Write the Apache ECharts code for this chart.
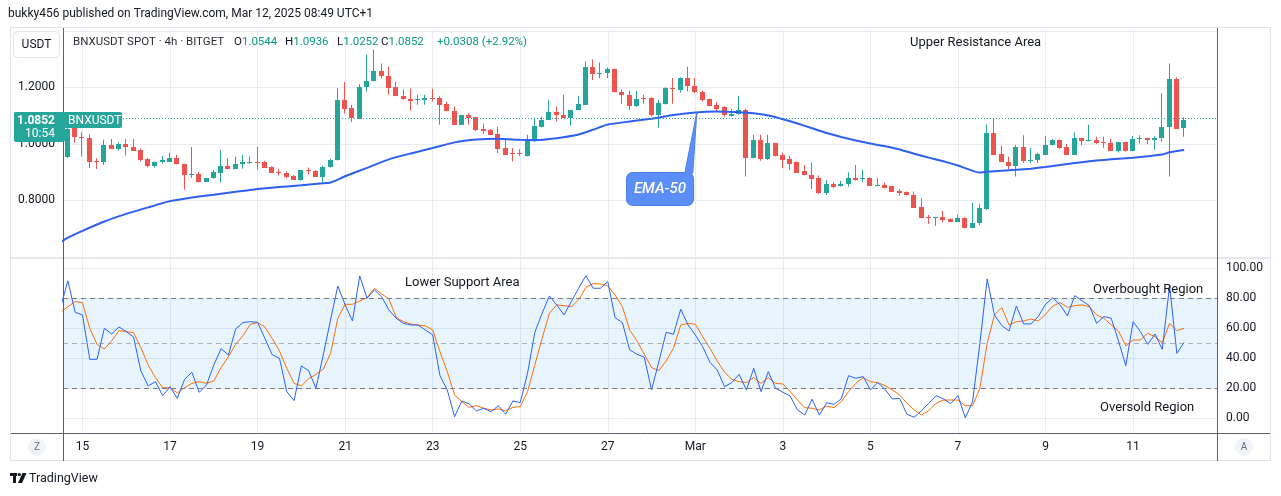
<!DOCTYPE html>
<html><head><meta charset="utf-8">
<script src="https://cdn.jsdelivr.net/npm/echarts@6/dist/echarts.min.js"></script>
<style>html,body{margin:0;padding:0;background:#fff;}#c{width:1281px;height:496px;}</style>
</head><body><div id="c"></div>
<script>
// ---------- DATA (4h bars; bar index 0 = Feb 15 00:00) ----------
const firstBar = -2;
const opens  = [0.955,1.055,1.024,1.021,0.940,0.937,0.996,0.983,1.000,0.989,0.978,0.946,0.923,0.936,0.937,0.950,0.929,0.888,0.893,0.865,0.878,0.898,0.923,0.912,0.928,0.934,0.936,0.936,0.918,0.899,0.897,0.886,0.872,0.907,0.904,0.884,0.917,0.941,1.156,1.127,1.089,1.200,1.221,1.259,1.241,1.200,1.170,1.159,1.155,1.155,1.163,1.161,1.141,1.117,1.067,1.101,1.096,1.053,1.050,1.036,0.986,0.966,0.966,0.957,1.011,1.060,1.084,1.112,1.103,1.093,1.120,1.138,1.272,1.248,1.251,1.266,1.185,1.174,1.135,1.162,1.162,1.103,1.141,1.197,1.189,1.232,1.206,1.185,1.160,1.136,1.129,1.099,1.104,1.121,0.951,1.013,0.946,1.004,0.961,0.947,0.934,0.902,0.890,0.879,0.827,0.859,0.849,0.857,0.879,0.876,0.880,0.852,0.854,0.849,0.834,0.831,0.819,0.775,0.741,0.736,0.740,0.734,0.724,0.738,0.703,0.718,0.769,1.039,0.964,0.936,0.923,0.989,0.940,0.943,0.962,0.994,1.014,0.987,0.961,1.021,1.011,1.013,1.006,1.004,0.976,1.006,0.976,1.019,1.021,1.012,1.019,1.058,1.231,1.0544];
const highs  = [1.075,1.062,1.041,1.034,0.949,1.014,1.017,1.006,1.017,1.017,0.983,0.949,0.937,0.957,0.968,0.961,0.929,0.989,0.901,0.879,0.907,0.979,0.949,0.954,0.960,0.954,0.989,0.940,0.920,0.912,0.902,0.890,0.907,0.916,0.907,0.923,0.947,1.195,1.219,1.138,1.212,1.316,1.334,1.284,1.273,1.220,1.192,1.195,1.174,1.174,1.195,1.168,1.148,1.131,1.103,1.109,1.096,1.072,1.052,1.060,1.018,0.985,0.981,1.032,1.093,1.096,1.156,1.131,1.174,1.120,1.170,1.292,1.298,1.288,1.270,1.266,1.192,1.188,1.188,1.174,1.165,1.156,1.200,1.233,1.235,1.273,1.232,1.188,1.160,1.148,1.133,1.124,1.170,1.124,1.032,1.032,1.032,1.004,0.969,0.957,0.937,0.925,0.934,0.888,0.872,0.866,0.869,0.899,0.925,0.908,0.882,0.880,0.863,0.849,0.840,0.831,0.831,0.807,0.748,0.740,0.762,0.736,0.750,0.740,0.791,0.788,1.067,1.089,0.994,0.954,0.996,1.030,0.985,0.968,1.028,1.017,1.016,0.999,1.041,1.021,1.067,1.025,1.025,1.018,1.006,1.006,1.028,1.030,1.021,1.027,1.178,1.284,1.236,1.0936];
const lows   = [0.950,1.004,0.955,0.914,0.911,0.925,0.983,0.976,0.959,0.975,0.937,0.916,0.916,0.929,0.937,0.927,0.837,0.880,0.863,0.865,0.876,0.863,0.909,0.912,0.912,0.929,0.909,0.914,0.897,0.888,0.878,0.872,0.869,0.891,0.884,0.863,0.916,0.941,1.107,1.077,1.089,1.186,1.221,1.232,1.174,1.168,1.155,1.118,1.138,1.138,1.150,1.067,1.115,1.067,1.067,1.067,1.044,1.036,1.030,0.967,0.961,0.937,0.957,0.955,1.006,1.059,1.084,1.079,1.093,1.065,1.120,1.138,1.226,1.232,1.233,1.182,1.142,1.120,1.131,1.142,1.097,1.058,1.139,1.142,1.182,1.186,1.179,1.150,1.133,1.115,1.097,1.097,1.104,0.884,0.949,0.940,0.943,0.955,0.914,0.908,0.897,0.888,0.840,0.822,0.819,0.843,0.849,0.849,0.869,0.866,0.852,0.852,0.843,0.831,0.817,0.817,0.774,0.736,0.716,0.710,0.722,0.724,0.724,0.701,0.701,0.712,0.766,0.962,0.935,0.911,0.884,0.932,0.932,0.932,0.961,0.994,0.982,0.961,0.961,0.994,1.008,1.000,0.986,0.976,0.969,0.972,0.976,1.000,0.999,0.980,1.008,0.884,1.052,1.0252];
const closes = [1.054,1.023,1.019,0.935,0.936,0.996,0.983,1.000,0.987,0.975,0.943,0.923,0.936,0.942,0.950,0.927,0.888,0.893,0.865,0.879,0.901,0.923,0.912,0.929,0.936,0.936,0.934,0.916,0.898,0.897,0.883,0.872,0.907,0.902,0.884,0.917,0.943,1.156,1.124,1.091,1.202,1.224,1.259,1.239,1.198,1.168,1.159,1.150,1.157,1.163,1.160,1.138,1.115,1.067,1.101,1.093,1.050,1.046,1.032,0.983,0.961,0.963,0.963,1.012,1.064,1.084,1.112,1.101,1.093,1.120,1.142,1.273,1.246,1.251,1.266,1.182,1.172,1.135,1.160,1.160,1.103,1.144,1.196,1.195,1.232,1.204,1.182,1.156,1.133,1.124,1.101,1.107,1.121,0.951,1.013,0.946,1.004,0.957,0.943,0.929,0.897,0.888,0.876,0.827,0.858,0.847,0.858,0.878,0.872,0.879,0.852,0.854,0.845,0.831,0.827,0.817,0.774,0.738,0.736,0.740,0.731,0.724,0.736,0.703,0.718,0.773,1.039,0.962,0.935,0.923,0.989,0.940,0.943,0.964,0.996,1.014,0.985,0.961,1.021,1.011,1.013,1.004,1.004,0.976,1.006,0.976,1.017,1.021,1.012,1.021,1.060,1.231,1.053,1.0852];

// EMA-50 read at selected bars
const emaIdx = [-3,-2,0,3,6,9,12,15,18,21,24,27,30,33,34,36,39,42,45,48,51,54,57,60,62,65,68,70,72,75,78,81,84,87,90,92,94,96,98,100,102,104,106,108,110,112,114,116,118,120,123,124,126,128,130,132,134,136,138,140,142,144,146,148,149,151];
const emaVal = [0.652,0.668,0.692,0.725,0.752,0.775,0.797,0.810,0.820,0.830,0.840,0.847,0.853,0.860,0.863,0.885,0.915,0.945,0.966,0.985,1.005,1.015,1.018,1.014,1.013,1.020,1.033,1.050,1.068,1.079,1.089,1.102,1.111,1.114,1.112,1.108,1.100,1.087,1.072,1.055,1.038,1.024,1.012,1.001,0.991,0.980,0.965,0.951,0.938,0.923,0.898,0.901,0.905,0.908,0.912,0.918,0.925,0.932,0.938,0.943,0.947,0.951,0.956,0.962,0.970,0.978];

// Oscillator (%K blue, %D orange), first value at bar -3
const oscStart = -3;
const oscK = [74.2,91.6,70.7,68.9,39.3,39.3,60.0,56.2,60.9,57.8,54.2,31.6,21.6,24.4,15.1,21.1,13.3,26.0,30.7,17.3,22.2,35.6,46.4,42.2,59.6,63.8,64.4,64.0,53.3,42.4,40.0,17.8,11.8,34.9,31.8,20.0,42.2,65.6,88.2,75.6,64.9,94.9,80.0,85.6,81.1,72.2,66.7,63.3,62.2,62.2,58.9,55.6,28.4,18.9,1.1,11.6,9.6,4.9,6.7,4.4,8.4,2.7,11.6,10.4,30.0,57.3,70.0,81.6,75.6,68.9,77.8,86.7,95.1,86.7,86.7,91.1,67.1,63.8,45.6,42.7,40.7,18.9,37.8,57.3,56.0,72.7,62.2,55.6,47.8,37.3,32.2,21.1,23.8,29.3,18.9,33.3,17.8,31.1,20.0,17.3,14.9,5.6,2.2,12.7,2.2,10.4,9.3,12.9,28.4,26.7,27.8,18.9,23.8,19.3,12.9,13.3,2.7,0.7,5.1,10.0,15.1,12.9,9.8,15.1,0.4,11.1,50.0,92.9,68.9,61.8,58.2,74.9,62.9,62.9,67.8,76.0,80.4,75.6,68.2,81.8,78.4,75.1,63.3,67.8,66.7,51.6,35.1,64.4,57.8,49.3,56.2,46.0,88.4,43.3,50.7];
const oscD = [70.7,74.4,77.8,77.1,60.0,49.3,46.2,51.6,58.4,57.8,57.1,47.1,35.6,27.1,20.4,20.4,16.9,20.4,23.3,24.4,23.3,24.9,33.8,41.1,49.3,55.1,62.7,63.8,60.9,53.3,44.9,33.3,23.3,21.6,26.4,29.3,32.7,43.3,66.7,76.0,76.0,78.2,80.4,86.7,82.9,79.6,67.3,64.4,62.9,62.2,61.6,58.9,44.4,31.1,15.6,11.1,7.3,8.4,6.7,5.6,6.2,4.9,7.3,7.8,17.8,35.6,53.3,70.0,75.6,75.1,74.4,78.9,87.3,89.8,89.6,88.4,82.2,74.4,58.9,51.6,42.7,33.8,31.8,38.2,46.7,62.2,63.3,62.7,54.4,46.7,38.2,30.7,26.0,24.4,23.8,27.1,23.3,27.1,23.3,22.9,17.8,12.2,7.1,6.7,5.6,8.2,7.1,11.1,17.8,23.3,27.1,24.4,23.8,21.8,18.9,15.6,10.0,5.6,2.2,5.1,10.0,12.2,12.2,12.2,8.4,8.4,20.0,50.0,68.9,73.8,62.2,64.4,64.9,66.2,64.9,69.3,74.9,77.1,74.0,75.1,75.6,74.4,68.9,66.7,62.2,58.2,48.2,52.2,52.2,56.7,54.4,50.4,63.3,58.4,60.0];

// Axis ticks / labels
const timeTickIdx = [0,12,24,36,48,60,72,84,96,108,120,132,144];
const timeTickLabels = ['15','17','19','21','23','25','27','Mar','3','5','7','9','11'];
const priceLabels = [0.8,1.0,1.2];
const oscLevels = [80,50,20];
const lastPrice = 1.0852;
const header = {symbol:'BNXUSDT SPOT · 4h · BITGET', o:'1.0544', h:'1.0936', l:'1.0252', c:'1.0852', chg:'+0.0308 (+2.92%)'};

// ---------- BUILD ----------
const UP = '#26a69a', DOWN = '#ef5350', GRID = '#e9ecf2', TXT = '#131722';
const FONT = 'Roboto, "Noto Sans", sans-serif';
const candleData = opens.map((o,k)=>[firstBar+k, o, closes[k], lows[k], highs[k]]);
const emaData = emaIdx.map((x,k)=>[x, emaVal[k]]);
const kData = oscK.map((v,k)=>[oscStart+k, v]);
const dData = oscD.map((v,k)=>[oscStart+k, v]);

const XMIN = -2.67, XMAX = 155.5;
function xAx(gridIndex, opts){
  return Object.assign({type:'value', gridIndex, min:XMIN, max:XMAX,
    axisLine:{show:false}, axisTick:{show:false, customValues:timeTickIdx},
    axisLabel:{show:false}, splitLine:{show:false}}, opts||{});
}

const chart = echarts.init(document.getElementById('c'), null, {renderer:'canvas', width:1281, height:496});

function renderCandle(params, api){
  const i = api.value(0), o = api.value(1), c = api.value(2), l = api.value(3), h = api.value(4);
  const pO = api.coord([i,o]), pC = api.coord([i,c]), pL = api.coord([i,l]), pH = api.coord([i,h]);
  const cx = Math.round(pO[0]) - 1;
  const color = c >= o ? UP : DOWN;
  const top = Math.round(Math.min(pO[1], pC[1])), bot = Math.round(Math.max(pO[1], pC[1]));
  return {type:'group', children:[
    {type:'rect', shape:{x:cx, y:pH[1], width:1, height:Math.max(1,pL[1]-pH[1])}, style:{fill:color}},
    {type:'rect', shape:{x:cx-2, y:top, width:5, height:Math.max(1, bot-top)}, style:{fill:color}}
  ]};
}

const option = {
  animation:false,
  backgroundColor:'#ffffff',
  textStyle:{fontFamily:FONT},
  grid:[
    {left:63, right:64, top:30.8, height:226},
    {left:63, right:64, top:258, height:175},
    {left:63, right:64, top:268.3, height:150}
  ],
  xAxis:[
    xAx(0, {splitLine:{show:true, lineStyle:{color:GRID, width:1}}}),
    xAx(1, {splitLine:{show:true, lineStyle:{color:GRID, width:1}},
            axisLabel:{show:true, customValues:timeTickIdx, margin:8, color:TXT, fontSize:12, fontFamily:FONT,
              formatter:v=>{const k=timeTickIdx.indexOf(Math.round(v)); return k>=0?timeTickLabels[k]:'';}}}),
    xAx(2)
  ],
  yAxis:[
    {type:'value', gridIndex:0, position:'left', min:0.6, max:1.4, interval:0.2,
     axisLine:{show:false}, axisTick:{show:false},
     axisLabel:{margin:8, color:TXT, fontSize:12, fontFamily:FONT,
       formatter:v=>priceLabels.some(p=>Math.abs(p-v)<1e-6)?v.toFixed(4):''},
     splitLine:{show:true, lineStyle:{color:GRID}}},
    {type:'value', gridIndex:1, min:0, max:1, show:false},
    {type:'value', gridIndex:2, position:'right', min:0, max:100, interval:20,
     axisLine:{show:false}, axisTick:{show:false},
     axisLabel:{margin:9, color:TXT, fontSize:12, fontFamily:FONT, formatter:v=>v.toFixed(2)},
     splitLine:{show:true, lineStyle:{color:GRID}}}
  ],
  series:[
    {type:'custom', name:'candles', xAxisIndex:0, yAxisIndex:0, renderItem:renderCandle,
     encode:{x:0, y:[1,2,3,4]}, data:candleData, clip:true, z:3},
    {type:'line', name:'EMA-50', xAxisIndex:0, yAxisIndex:0, data:emaData, showSymbol:false, smooth:0.15,
     lineStyle:{color:'#2e5ff3', width:2}, z:4, silent:true,
     markLine:{silent:true, symbol:['none','none'], label:{show:false},
       lineStyle:{color:UP, type:[1,2], width:1}, data:[{yAxis:lastPrice}]}},
    {type:'line', name:'%K', xAxisIndex:2, yAxisIndex:2, data:kData, showSymbol:false,
     lineStyle:{color:'#2962ff', width:1}, z:4, silent:true,
     markArea:{silent:true, itemStyle:{color:'rgba(33,150,243,0.1)'}, data:[[{yAxis:oscLevels[2]},{yAxis:oscLevels[0]}]]},
     markLine:{silent:true, symbol:['none','none'], label:{show:false},
       data:[
         {yAxis:oscLevels[0], lineStyle:{color:'#787b86', type:[5,4], width:1}},
         {yAxis:oscLevels[1], lineStyle:{color:'rgba(120,123,134,0.55)', type:[5,4], width:1}},
         {yAxis:oscLevels[2], lineStyle:{color:'#787b86', type:[5,4], width:1}}
       ]}},
    {type:'line', name:'%D', xAxisIndex:2, yAxisIndex:2, data:dData, showSymbol:false,
     lineStyle:{color:'#ff6d00', width:1}, z:3, silent:true}
  ]
};
chart.setOption(option);

// ---------- ANNOTATIONS ----------
function txt(x, y, text, o){
  o = o || {};
  return {type:'text', silent:true, z:o.z||20, style:{text, x, y, fill:o.fill||TXT,
    font:(o.style||'normal')+' '+(o.weight||'normal')+' '+(o.size||13)+'px '+FONT,
    align:o.align||'left', verticalAlign:'middle', textAlign:o.align||'left', textVerticalAlign:'middle',
    rich:o.rich}};
}
function ln(x1,y1,x2,y2,color,w){ return {type:'line', silent:true, z:15, shape:{x1,y1,x2,y2}, style:{stroke:color, lineWidth:w||1}}; }

const tip = chart.convertToPixel({xAxisIndex:0, yAxisIndex:0}, [84.2, emaVal[emaIdx.indexOf(84)]]);
const lp = chart.convertToPixel({xAxisIndex:0, yAxisIndex:0}, [0, lastPrice]);
const lpY = Math.round(lp[1]);

const HS = 11.5;
const vals = {a:{fill:TXT, font:HS+'px '+FONT}, b:{fill:'#089981', font:HS+'px '+FONT}};
const g = [
  // frame
  ln(10,27.5,1271,27.5,'#e0e3eb'),
  ln(10.5,27,10.5,461,'#e0e3eb'),
  ln(1270.5,27,1270.5,461,'#e0e3eb'),
  ln(10,460.5,1271,460.5,'#e0e3eb'),
  {type:'rect', silent:true, z:15, shape:{x:11, y:257, width:1259, height:2}, style:{fill:'#e6e8ee'}},
  ln(11,433.5,1270,433.5,'#5d606b',1),
  ln(63.5,28,63.5,461,'#5d606b'),
  ln(1217.5,28,1217.5,461,'#5d606b'),
  // header
  txt(8, 14, 'bukky456 published on TradingView.com, Mar 12, 2025 08:49 UTC+1', {size:12}),
  {type:'rect', silent:true, z:20, shape:{x:13.5, y:31.5, width:46, height:26, r:4}, style:{fill:'#fff', stroke:'#e0e3eb', lineWidth:1}},
  txt(36.5, 44.5, 'USDT', {size:12, align:'center'}),
  txt(73, 42, header.symbol, {size:HS, fill:'#2a2e39'}),
  txt(234, 42, '{a|O}{b|'+header.o+'}', {rich:vals}),
  txt(285, 42, '{a|H}{b|'+header.h+'}', {rich:vals}),
  txt(337, 42, '{a|L}{b|'+header.l+'}', {rich:vals}),
  txt(381, 42, '{a|C}{b|'+header.c+'}', {rich:vals}),
  txt(437, 42, header.chg, {size:HS, fill:'#089981'}),
  // annotations
  txt(910, 43, 'Upper Resistance Area', {size:13}),
  txt(405, 283, 'Lower Support Area', {size:13}),
  txt(1093, 290, 'Overbought Region', {size:13}),
  txt(1100, 408, 'Oversold Region', {size:13}),
  // EMA-50 callout
  {type:'polygon', silent:true, z:21, shape:{points:[[tip[0]-12,173],[tip[0]-4,173],[tip[0],tip[1]]]}, style:{fill:'#5b8ef7', stroke:'#4b7fe6', lineWidth:1}},
  {type:'rect', silent:true, z:21, shape:{x:626.5, y:172.5, width:67, height:33, r:6}, style:{fill:'#5b8ef7', stroke:'#4b7fe6', lineWidth:1}},
  {type:'polygon', silent:true, z:22, shape:{points:[[tip[0]-11.5,174],[tip[0]-4.5,174],[tip[0]-0.5,tip[1]+3]]}, style:{fill:'#5b8ef7'}},
  txt(660, 189.5, 'EMA-50', {size:15, align:'center', fill:'#ffffff', style:'italic', weight:'500', z:23}),
  // last price badge
  {type:'rect', silent:true, z:24, shape:{x:14, y:lpY-8, width:108, height:16, r:2}, style:{fill:UP}},
  {type:'rect', silent:true, z:24, shape:{x:14, y:lpY-8, width:51, height:30, r:2}, style:{fill:UP}},
  txt(55, lpY+1, lastPrice.toFixed(4), {size:12, align:'right', fill:'#fff', weight:'bold', z:25}),
  txt(55, lpY+14, '10:54', {size:12, align:'right', fill:'#fff', z:25}),
  txt(68, lpY+1, 'BNXUSDT', {size:12, fill:'#fff', z:25}),
  // Z / A buttons
  {type:'circle', silent:true, z:20, shape:{cx:37, cy:447, r:9}, style:{fill:'#f0f3fa'}},
  txt(37, 447.5, 'Z', {size:10, align:'center', fill:'#6a6d78'}),
  {type:'circle', silent:true, z:20, shape:{cx:1244, cy:447, r:9}, style:{fill:'#f0f3fa'}},
  txt(1244, 447.5, 'A', {size:10, align:'center', fill:'#6a6d78'}),
  // TradingView logo
  {type:'rect', silent:true, z:20, shape:{x:10, y:473, width:7, height:3}, style:{fill:'#131722'}},
  {type:'rect', silent:true, z:20, shape:{x:13, y:473, width:3, height:10}, style:{fill:'#131722'}},
  {type:'circle', silent:true, z:20, shape:{cx:19.3, cy:474.6, r:1.7}, style:{fill:'#131722'}},
  {type:'polygon', silent:true, z:20, shape:{points:[[22.5,473],[26.5,473],[22,483],[18,483]]}, style:{fill:'#131722'}},
  txt(29, 478.5, 'TradingView', {size:12.5})
];
chart.setOption({graphic:g});
</script>
</body></html>
